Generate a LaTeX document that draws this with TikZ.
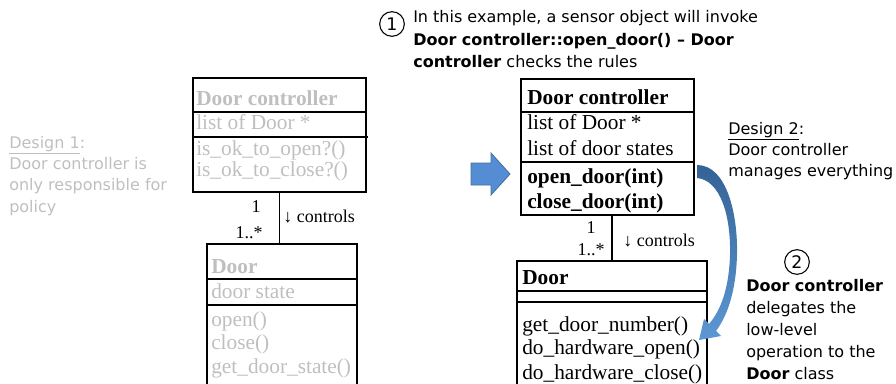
\documentclass[tikz,border=0pt]{standalone}
\usepackage{fontspec}
\setmainfont{Liberation Serif}
\newfontfamily\tahoma{DejaVu Sans}
\usetikzlibrary{fit}
\definecolor{fadegray}{RGB}{191,191,191}
\definecolor{arrowblue}{RGB}{84,141,212}
\definecolor{arrowedge}{RGB}{65,113,156}
\definecolor{curvetop}{RGB}{52,98,150}
\definecolor{curvebottom}{RGB}{92,152,212}

\tikzset{
  classbox/.style={draw, line width=1pt, inner sep=0pt},
  row/.style={anchor=base west, inner sep=0pt, font=\fontsize{16}{18}\selectfont},
  mult/.style={inner sep=0pt, font=\fontsize{13.5}{15}\selectfont},
  note/.style={anchor=base west, inner sep=0pt, font=\tahoma\fontsize{12}{14}\selectfont},
  numcirc/.style={draw, circle, line width=0.8pt, minimum size=18.5pt, inner sep=0pt, font=\tahoma\fontsize{13}{13}\selectfont},
}

\begin{document}
\begin{tikzpicture}[x=0.75pt, y=-0.75pt]
    % Cadre
    \path[use as bounding box, clip] (0,0) rectangle (896,383);

    % --- Design 1 : texte gris a gauche ---
    \node[note, text=fadegray] (d1a) at (9,148) {\underline{Design 1}:};
    \node[note, text=fadegray] (d1b) at (9,169) {Door controller is};
    \node[note, text=fadegray] (d1c) at (9,190.5) {only responsible for};
    \node[note, text=fadegray] (d1d) at (9,212) {policy};

    % --- Design 1 : classes grises ---
    \node[classbox, fit={(193,78) (366,192)}] (dc1) {};
    \draw[line width=1pt] (dc1.west |- 0,112) -- (dc1.east |- 0,112);
    \draw[line width=1pt] (dc1.west |- 0,137) -- (368,137);
    \node[row, text=fadegray] (dc1h) at (196,105) {\textbf{Door controller}};
    \foreach \y/\t [count=\i] in {129/list of Door *, 155/is\_ok\_to\_open?(), 176/is\_ok\_to\_close?()} {
        \node[row, text=fadegray] (dc1r\i) at (196,\y) {\t};
    }

    \node[classbox, fit={(207,244) (357,392)}] (door1) {};
    \draw[line width=1pt] (door1.west |- 0,279) -- (door1.east |- 0,279);
    \draw[line width=1pt] (door1.west |- 0,305) -- (door1.east |- 0,305);
    \node[row, text=fadegray] (door1h) at (211,273) {\textbf{Door}};
    \foreach \y/\t [count=\i] in {298/door state, 326/open(), 349/close(), 373/get\_door\_state()} {
        \node[row, text=fadegray] (door1r\i) at (211,\y) {\t};
    }

    % Association
    \draw[line width=1pt] (dc1.south) -- (dc1.south |- door1.north);
    \node[mult] (m1a) at (256,207) {1};
    \node[mult, anchor=east] (m1b) at (263,233) {1..*};
    \node[mult, anchor=west] (m1c) at (283,217) {↓ controls};

    % --- Grosse fleche bleue ---
    \draw[fill=arrowblue, draw=arrowedge, line width=0.6pt]
        (471,163) -- (491,163) -- (491,153) -- (510,174) -- (491,195) -- (491,185) -- (471,185) -- cycle;

    % --- Note 1 en haut ---
    \node[numcirc] (n1) at (392,24) {1};
    \node[note] (t1) at (413,22.5) {In this example, a sensor object will invoke};
    \node[note] (t2) at (413,45) {\bfseries Door controller::open\_door() – Door};
    \node[note] (t3) at (413,67.5) {\textbf{controller} checks the rules};

    % --- Design 2 : classes ---
    \node[classbox, fit={(521,79) (694,215)}] (dc2) {};
    \draw[line width=1pt] (dc2.west |- 0,112) -- (dc2.east |- 0,112);
    \draw[line width=1pt] (dc2.west |- 0,162) -- (dc2.east |- 0,162);
    \node[row] (dc2h) at (527,104) {\textbf{Door controller}};
    \foreach \y/\t [count=\i] in {129/list of Door *, 155/list of door states} {
        \node[row] (dc2r\i) at (527,\y) {\t};
    }
    \foreach \y/\t [count=\i] in {183/open\_door(int), 208/close\_door(int)} {
        \node[row] (dc2m\i) at (527,\y) {\textbf{\t}};
    }

    \node[classbox, fit={(517,261) (707,392)}] (door2) {};
    \draw[line width=1pt] (door2.west |- 0,291) -- (door2.east |- 0,291);
    \draw[line width=1pt] (door2.west |- 0,302) -- (door2.east |- 0,302);
    \node[row] (door2h) at (522,284) {\textbf{Door}};
    \foreach \y/\t [count=\i] in {331/get\_door\_number(), 354/do\_hardware\_open(), 379/do\_hardware\_close()} {
        \node[row] (door2r\i) at (522,\y) {\t};
    }

    % Association
    \draw[line width=1pt] (door2.north) -- (door2.north |- dc2.south);
    \node[mult] (m2a) at (591,228) {1};
    \node[mult, anchor=east] (m2b) at (605,250) {1..*};
    \node[mult, anchor=west] (m2c) at (623,241) {↓ controls};

    % --- Fleche courbe : delegation ---
    \shade[top color=curvetop, bottom color=curvebottom]
        (697,165) .. controls (727,165) and (738,215) .. (737,255)
        .. controls (736,290) and (728,315) .. (716,331)
        -- (721,336) -- (699,340) -- (704,319) -- (709,324)
        .. controls (721,310) and (729,288) .. (730,255)
        .. controls (731,215) and (720,180) .. (697,178) -- cycle;

    % --- Design 2 : texte ---
    \node[note] (d2a) at (728,134.5) {\underline{Design 2}:};
    \node[note] (d2b) at (728,155.5) {Door controller};
    \node[note] (d2c) at (728,176.5) {manages everything};

    % --- Note 2 ---
    \node[numcirc] (n2) at (797,262) {2};
    \node[note] (u1) at (746,291) {\bfseries Door controller};
    \node[note] (u2) at (746,313) {delegates the};
    \node[note] (u3) at (746,335) {low-level};
    \node[note] (u4) at (746,357) {operation to the};
    \node[note] (u5) at (746,379) {\textbf{Door} class};
\end{tikzpicture}
\end{document}
